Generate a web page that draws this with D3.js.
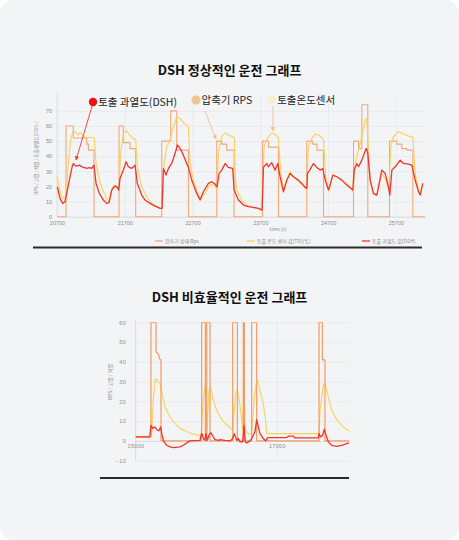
<!DOCTYPE html>
<html>
<head>
<meta charset="utf-8">
<script src="https://cdn.jsdelivr.net/npm/d3@7"></script>
<style>
  html, body { margin: 0; padding: 0; background: #fff; }
  svg { display: block; font-family: "Noto Sans CJK KR", "Noto Sans", sans-serif; }
</style>
</head>
<body>
<svg id="chart" width="459" height="540"></svg>
<script>
// --- Données : graphe normal (t [s], valeur)
const normalTicksX = [20700, 21700, 22700, 23700, 24700, 25700];
const normalTicksY = [0, 10, 20, 30, 40, 50, 60, 70];

const normalRps = [
  [20700, 0], [20833, 0], [20833, 60], [20941, 60], [20941, 52], [21138, 52], [21138, 48], [21163, 48], [21163, 44], [21246, 44], [21246, 0],
  [21615, 0], [21615, 60], [21679, 60], [21679, 49], [21778, 49], [21778, 45], [21861, 45], [21861, 0],
  [22245, 0], [22245, 50], [22378, 50], [22378, 70], [22467, 70], [22467, 44], [22639, 44], [22639, 0],
  [23057, 0], [23057, 50], [23131, 50], [23131, 48], [23205, 48], [23205, 44], [23313, 44], [23313, 0],
  [23731, 0], [23731, 50], [23820, 50], [23820, 46], [23968, 46], [23968, 0],
  [24386, 0], [24386, 50], [24474, 50], [24474, 48], [24534, 48], [24534, 44], [24632, 44], [24632, 0],
  [25075, 0], [25075, 50], [25149, 50], [25149, 45], [25198, 45], [25198, 74], [25286, 74], [25286, 0],
  [25606, 0], [25606, 50], [25715, 50], [25715, 48], [25788, 48], [25788, 45], [25862, 45], [25862, 44], [25951, 44], [25951, 0],
  [26130, 0]
];

const normalTd = [
  [20705, 26.4], [20754, 14.3], [20803, 12.1], [20833, 13.2], [20867, 35.2], [20902, 50.7], [20941, 57.3], [20990, 55.1],
  [21015, 54.0], [21049, 55.5], [21079, 54.0], [21113, 52.4], [21236, 52.4], [21251, 51.8], [21276, 35.2], [21325, 24.2],
  [21374, 17.6], [21433, 12.1], [21468, 9.9], [21522, 19.8], [21556, 20.9], [21605, 18.7], [21615, 18.7], [21640, 41.9],
  [21679, 55.1], [21719, 57.0], [21753, 55.1], [21802, 52.4], [21861, 51.1], [21886, 33.0], [21950, 19.8], [22024, 13.2],
  [22098, 8.8], [22171, 7.0], [22230, 5.5], [22250, 5.5], [22280, 35.2], [22319, 46.3], [22368, 50.7], [22417, 59.5],
  [22467, 66.1], [22516, 65.0], [22575, 61.7], [22639, 59.5], [22663, 35.2], [22713, 24.2], [22786, 14.3], [22821, 11.5],
  [22885, 15.4], [22934, 19.8], [22983, 21.6], [23033, 20.3], [23062, 17.6], [23082, 41.9], [23131, 52.9], [23180, 55.5],
  [23229, 54.0], [23293, 52.9], [23318, 51.8], [23328, 27.5], [23352, 17.6], [23426, 11.0], [23500, 7.7], [23574, 6.2],
  [23648, 5.5], [23726, 4.8], [23756, 46.3], [23805, 51.8], [23869, 55.5], [23918, 54.6], [23968, 51.8], [24002, 28.6],
  [24041, 17.6], [24115, 27.5], [24140, 29.7], [24189, 26.4], [24238, 24.2], [24287, 22.0], [24346, 19.8], [24381, 17.6],
  [24410, 46.3], [24460, 51.8], [24509, 54.6], [24558, 54.0], [24607, 52.4], [24632, 50.7], [24666, 26.4], [24716, 17.6],
  [24770, 27.5], [24829, 26.4], [24903, 24.2], [25001, 20.9], [25070, 16.5], [25099, 35.2], [25149, 44.1], [25198, 52.9],
  [25247, 63.9], [25272, 65.0], [25291, 46.3], [25321, 24.2], [25370, 14.3], [25419, 14.3], [25493, 28.6], [25542, 25.3],
  [25596, 17.6], [25626, 46.3], [25665, 52.9], [25739, 56.2], [25813, 54.6], [25887, 53.3], [25951, 52.9], [25985, 28.6],
  [26034, 17.6], [26059, 15.4], [26098, 22.0]
];

const normalDsh = [
  [20705, 19.8], [20744, 12.1], [20784, 8.8], [20818, 9.9], [20853, 17.6], [20892, 26.4], [20926, 33.5], [20941, 35.2],
  [20966, 33.9], [20990, 33.5], [21030, 34.1], [21064, 33.0], [21099, 32.6], [21138, 31.9], [21177, 32.4], [21212, 31.9],
  [21246, 34.1], [21276, 22.0], [21325, 15.4], [21384, 11.0], [21433, 8.8], [21468, 9.3], [21507, 17.6], [21556, 20.3],
  [21591, 19.4], [21610, 17.6], [21630, 25.3], [21679, 30.8], [21719, 36.3], [21753, 33.0], [21802, 31.9], [21851, 34.1],
  [21886, 22.0], [21950, 14.3], [21999, 11.0], [22073, 8.8], [22147, 7.0], [22221, 5.5], [22250, 5.5], [22270, 31.9],
  [22309, 27.5], [22344, 31.9], [22393, 35.2], [22442, 41.9], [22476, 47.4], [22516, 45.2], [22565, 40.7], [22614, 35.2],
  [22639, 32.6], [22688, 24.2], [22762, 15.4], [22811, 11.0], [22860, 16.5], [22934, 22.0], [22983, 23.1], [23033, 21.6],
  [23062, 19.8], [23092, 28.6], [23131, 30.8], [23180, 35.2], [23229, 32.6], [23293, 31.9], [23313, 17.6], [23377, 11.0],
  [23451, 7.7], [23525, 6.6], [23598, 6.2], [23672, 5.5], [23726, 4.4], [23746, 32.6], [23795, 35.2], [23820, 33.0],
  [23869, 35.7], [23918, 30.8], [23958, 35.2], [23992, 26.4], [24041, 16.5], [24091, 24.2], [24140, 28.6], [24189, 26.4],
  [24263, 24.2], [24312, 22.0], [24361, 19.4], [24386, 18.7], [24396, 28.6], [24435, 31.3], [24484, 35.2], [24533, 32.6],
  [24583, 30.8], [24622, 31.9], [24657, 24.2], [24706, 17.6], [24770, 27.5], [24829, 26.4], [24903, 24.2], [24976, 20.9],
  [25065, 17.6], [25085, 30.8], [25124, 35.2], [25149, 33.0], [25198, 37.4], [25262, 45.2], [25286, 41.9], [25321, 24.2],
  [25370, 15.4], [25419, 14.3], [25493, 30.8], [25542, 28.6], [25591, 19.8], [25611, 14.3], [25641, 30.8], [25690, 33.0],
  [25764, 37.4], [25813, 35.2], [25887, 34.8], [25936, 34.1], [25985, 24.2], [26034, 16.5], [26059, 14.3], [26098, 22.0]
];

// --- Données : graphe inefficace
const badTicksX = [15000, 17000];
const badTicksY = [-10, 0, 10, 20, 30, 40, 50, 60];

const badRps = [
  [15000, 2], [15219, 2], [15219, 60], [15290, 60], [15290, 45], [15323, 44], [15347, 41], [15361, 41], [15361, 0],
  [15936, 0], [15936, 60], [15988, 60], [15988, 0], [16007, 0], [16007, 60], [16054, 60], [16054, 0],
  [16375, 0], [16375, 60], [16441, 60], [16441, 0], [16525, 0], [16525, 60], [16540, 60], [16540, 0],
  [16643, 0], [16643, 60], [16714, 60], [16714, 0],
  [17596, 0], [17596, 60], [17643, 60], [17643, 41], [17680, 41], [17680, 0], [18020, 0]
];

const badTd = [
  [15000, 2], [15215, 2], [15229, 4], [15252, 20.6], [15276, 29.9], [15290, 31.6], [15323, 29.9], [15347, 29.1],
  [15375, 24.0], [15417, 17.2], [15488, 12.2], [15559, 8.8], [15630, 6.3], [15700, 5.1], [15795, 3.7], [15889, 2.9],
  [15927, 2.9], [15960, 22.3], [15993, 28.7], [16007, 3.0], [16040, 25.7], [16063, 27.0], [16101, 20.6], [16149, 15.5],
  [16195, 12.2], [16266, 8.8], [16337, 6.8], [16375, 5.4], [16417, 24.0], [16441, 26.0], [16469, 20.6], [16502, 10.5],
  [16516, 5.4], [16535, 28.2], [16554, 5.4], [16596, 3.7], [16643, 3.4], [16681, 22.3], [16714, 30.7], [16728, 30.7],
  [16761, 25.7], [16808, 18.9], [16841, 10.5], [16856, 3.7], [17586, 3.7], [17596, 2.9], [17610, 15.5], [17657, 28.2],
  [17680, 29.4], [17728, 22.3], [17775, 15.5], [17822, 12.2], [17893, 8.8], [17963, 6.3], [18020, 5.1]
];

const badDsh = [
  [15000, 2], [15196, 2], [15205, 2.9], [15219, 7.9], [15243, 6.3], [15267, 7.1], [15290, 6.3], [15309, 5.4],
  [15333, 5.1], [15356, 7.1], [15375, 2.9], [15403, -0.5], [15441, -2.2], [15488, -3.0], [15535, -3.4], [15630, -3.0],
  [15677, -2.2], [15724, -1.0], [15771, 0], [15913, 0.3], [15927, 2.9], [15941, 3.7], [15960, 1.2], [15983, 0.3],
  [15997, 3.7], [16016, 0.3], [16045, 3.4], [16068, 4.1], [16101, 2.0], [16125, 0.7], [16172, 0.3], [16195, 0.7],
  [16266, 0.3], [16337, 0], [16375, 1.2], [16398, 3.7], [16431, 0.3], [16455, 1.2], [16479, -0.5], [16516, -0.5],
  [16535, 7.9], [16554, -0.5], [16573, -1.0], [16620, 0], [16643, 1.2], [16667, 2.9], [16690, 4.6], [16714, 10.8],
  [16738, 7.1], [16761, 3.7], [16808, 1.2], [16841, 0], [16870, 1.7], [17138, 1.7], [17162, 2.4], [17233, 2.4],
  [17250, 1.5], [17586, 1.5], [17596, 3.7], [17619, 2.0], [17647, 2.9], [17671, 5.9], [17695, 2.9], [17728, -0.5],
  [17775, -2.2], [17845, -2.7], [17916, -2.2], [17987, -1.4], [18020, -1.0]
];

const legendLabels = ['압축기 상태 Rps', '토출 온도 센서 값[TD](℃)', '토출 과열도 값[DSH]'];
const calloutLabels = ['토출 과열도(DSH)', '압축기 RPS', '토출온도센서'];

// --- Styles
const C_RPS = '#f5a776', C_TD = '#f7d257', C_DSH = '#f0352c';
const GRID = '#e3e4e7', TICK = '#8c8c8c';

const svg = d3.select('#chart');
svg.append('rect').attr('width', 459).attr('height', 540).attr('rx', 14).attr('fill', '#f3f4f6');

const defs = svg.append('defs');
const marker = (id, color) => defs.append('marker').attr('id', id)
  .attr('viewBox', '0 0 10 10').attr('refX', 9).attr('refY', 5)
  .attr('markerWidth', 5).attr('markerHeight', 5).attr('orient', 'auto')
  .append('path').attr('d', 'M0,0L10,5L0,10z').attr('fill', color);
marker('ar-red', '#f0352c');
marker('ar-peach', '#f3bb8c');
marker('ar-pale', '#f3c590');

// --- Helpers
function drawPanel(g, x, y, ticksX, ticksY, opts) {
  const [x0, x1] = x.range();
  const [y0, y1] = y.range();

  g.append('g').attr('transform', `translate(${x0},0)`)
    .call(d3.axisLeft(y).tickValues(ticksY).tickSize(-(x1 - x0)).tickFormat(''))
    .call(a => a.select('.domain').remove())
    .selectAll('line').attr('stroke', GRID).attr('stroke-width', 0.6);

  g.append('g').attr('transform', `translate(0,${y0})`)
    .call(d3.axisBottom(x).tickValues(ticksX).tickSize(-(y0 - y1)).tickFormat(''))
    .call(a => a.select('.domain').remove())
    .selectAll('line').attr('stroke', GRID).attr('stroke-width', 0.6);

  // axes
  g.append('line').attr('x1', x0).attr('x2', x0).attr('y1', y0).attr('y2', y1 - 2)
    .attr('stroke', '#d6d7da').attr('stroke-width', 0.7);

  g.append('g').attr('transform', `translate(${x0},0)`)
    .call(d3.axisLeft(y).tickValues(ticksY).tickSize(0).tickPadding(opts.padY))
    .call(a => a.select('.domain').remove())
    .selectAll('text').attr('fill', TICK).attr('font-size', opts.font).attr('letter-spacing', opts.ls || 0);

  g.append('g').attr('transform', `translate(0,${y(0)})`)
    .call(d3.axisBottom(x).tickValues(ticksX).tickSize(0).tickPadding(opts.padX).tickFormat(d3.format('d')))
    .call(a => a.select('.domain').attr('stroke', '#d6d7da').attr('stroke-width', 0.7))
    .selectAll('text').attr('fill', TICK).attr('font-size', opts.font).attr('letter-spacing', opts.lsX || 0);
}

function drawLine(g, x, y, data, color, w) {
  const line = d3.line().x(d => x(d[0])).y(d => y(d[1]));
  g.append('path').datum(data).attr('d', line)
    .attr('fill', 'none').attr('stroke', color).attr('stroke-width', w)
    .attr('stroke-linejoin', 'round');
}

// --- Graphe 1 : DSH normal
svg.append('text').attr('x', 229.5).attr('y', 75).attr('text-anchor', 'middle')
  .attr('font-size', 13).attr('font-weight', 700).attr('fill', '#111')
  .text('DSH 정상적인 운전 그래프');

const xTop = d3.scaleLinear().domain([20700, 26130]).range([57, 425]);
const yTop = d3.scaleLinear().domain([0, 80]).range([216.7, 95.7]);
const gTop = svg.append('g');
drawPanel(gTop, xTop, yTop, normalTicksX, normalTicksY, { font: 5.5, padY: 5, padX: 4 });

drawLine(gTop, xTop, yTop, normalRps, C_RPS, 1.1);
drawLine(gTop, xTop, yTop, normalTd, C_TD, 1.1);
drawLine(gTop, xTop, yTop, normalDsh, C_DSH, 1.3);

gTop.append('text').attr('transform', 'translate(38,158) rotate(-90)').attr('text-anchor', 'middle')
  .attr('font-size', 4.6).attr('fill', TICK).text('RPS / 고압 / 저압 / 토출과열도(DSH) /');
gTop.append('text').attr('x', 278).attr('y', 231).attr('text-anchor', 'middle')
  .attr('font-size', 4.8).attr('fill', TICK).text('time [s]');

// légende
const legendItems = [
  { label: legendLabels[0], color: C_RPS, x: 155 },
  { label: legendLabels[1], color: C_TD, x: 247 },
  { label: legendLabels[2], color: C_DSH, x: 362 }
];
const lg = gTop.append('g').selectAll('g').data(legendItems).join('g')
  .attr('transform', d => `translate(${d.x},241)`);
lg.append('line').attr('x1', 0).attr('x2', 8).attr('stroke', d => d.color).attr('stroke-width', 1.3);
lg.append('text').attr('x', 10).attr('y', 1.8).attr('font-size', 5).attr('fill', TICK).text(d => d.label);

// annotations
const callouts = [
  { label: calloutLabels[0], dot: [93, 102], color: '#f01010', r: 4.2, from: [93, 103], to: [76, 160], m: 'ar-red', stroke: '#f0352c' },
  { label: calloutLabels[1], dot: [196, 100], color: '#f5c291', r: 4.5, from: [205, 111], to: [216, 139], m: 'ar-peach', stroke: '#f3bb8c' },
  { label: calloutLabels[2], dot: [272, 100], color: '#f8edcc', r: 4.2, from: [273, 106], to: [273, 131], m: 'ar-pale', stroke: '#f3c590' }
];
callouts.forEach(c => {
  gTop.append('line').attr('x1', c.from[0]).attr('y1', c.from[1]).attr('x2', c.to[0]).attr('y2', c.to[1])
    .attr('stroke', c.stroke).attr('stroke-width', 0.9).attr('marker-end', `url(#${c.m})`);
  gTop.append('circle').attr('cx', c.dot[0]).attr('cy', c.dot[1]).attr('r', c.r).attr('fill', c.color);
  gTop.append('text').attr('x', c.dot[0] + c.r + 1).attr('y', c.dot[1] + 3.8)
    .attr('font-size', 10.5).attr('fill', '#222').text(c.label);
});

svg.append('line').attr('x1', 33).attr('x2', 422).attr('y1', 247.5).attr('y2', 247.5)
  .attr('stroke', '#2b2b2b').attr('stroke-width', 1.8);

// --- Graphe 2 : DSH inefficace
svg.append('text').attr('x', 229.5).attr('y', 302).attr('text-anchor', 'middle')
  .attr('font-size', 13).attr('font-weight', 700).attr('fill', '#111')
  .text('DSH 비효율적인 운전 그래프');

const xBot = d3.scaleLinear().domain([15000, 18020]).range([135.5, 349]);
const yBot = d3.scaleLinear().domain([-10, 60]).range([460.7, 322.3]);
const gBot = svg.append('g');
drawPanel(gBot, xBot, yBot, badTicksX, badTicksY, { font: 5.5, padY: 9, padX: 3, ls: 0.6, lsX: 0.3 });

const clip = defs.append('clipPath').attr('id', 'clip-bot');
clip.append('rect').attr('x', 135.5).attr('y', 322.3).attr('width', 214).attr('height', 140);
const gBotLines = gBot.append('g').attr('clip-path', 'url(#clip-bot)');
drawLine(gBotLines, xBot, yBot, badTd, C_TD, 1.1);
drawLine(gBotLines, xBot, yBot, badRps, '#f39a63', 1.2);
drawLine(gBotLines, xBot, yBot, badDsh, C_DSH, 1.3);

gBot.append('text').attr('transform', 'translate(112,382) rotate(-90)').attr('text-anchor', 'middle')
  .attr('font-size', 5).attr('fill', TICK).text('RPS / 고압 / 저압');

svg.append('line').attr('x1', 100).attr('x2', 349).attr('y1', 478).attr('y2', 478)
  .attr('stroke', '#2b2b2b').attr('stroke-width', 1.8);
</script>
</body>
</html>
